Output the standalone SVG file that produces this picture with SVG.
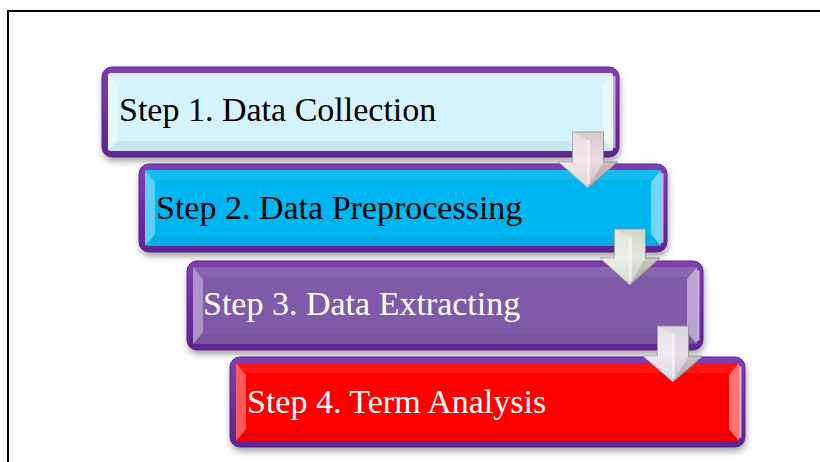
<svg xmlns="http://www.w3.org/2000/svg" width="820" height="462" viewBox="0 0 820 462">
  <defs>
    <style>
      .frame { fill: none; stroke: #000; stroke-width: 2; }
      .outer { fill: url(#rimGrad); stroke: #5a2288; stroke-width: 1; filter: url(#shadow); }
      .rimHi { fill: #e2b8f4; opacity: 0.85; }
      .bevL { fill: #fff; opacity: 0.35; }
      .bevR { fill: #fff; opacity: 0.45; }
      .bevT { fill: #fff; opacity: 0.08; }
      .bevB { fill: #000; opacity: 0.05; }
      .label { font-family: "Liberation Serif", "Times New Roman", serif; font-size: 34px; }
      .dark { fill: #000; }
      .light { fill: #fff; }
      .arrow { stroke: #8f8a8c; stroke-width: 0.8; }
      .arrowHi { fill: #fff; opacity: 0.55; }
      .arrowFacetL { fill: #fff; opacity: 0.35; }
      .arrowFacetR { fill: #000; opacity: 0.12; }
    </style>
    <filter id="shadow" x="-5%" y="-20%" width="110%" height="150%">
      <feDropShadow dx="1" dy="4" stdDeviation="3" flood-color="#000" flood-opacity="0.35"/>
    </filter>
    <linearGradient id="rimGrad" x1="0" y1="0" x2="0" y2="1">
      <stop offset="0" stop-color="#8040b0"/>
      <stop offset="0.5" stop-color="#7030a0"/>
      <stop offset="1" stop-color="#5e2590"/>
    </linearGradient>
    <linearGradient id="arrowPink" x1="0" y1="0" x2="0" y2="1">
      <stop offset="0" stop-color="#d8cccc"/>
      <stop offset="0.5" stop-color="#ecdcdf"/>
      <stop offset="1" stop-color="#cdbcbf"/>
    </linearGradient>
    <linearGradient id="arrowGreen" x1="0" y1="0" x2="0" y2="1">
      <stop offset="0" stop-color="#d2d8cc"/>
      <stop offset="0.5" stop-color="#e2e6dc"/>
      <stop offset="1" stop-color="#c4cabd"/>
    </linearGradient>
    <linearGradient id="arrowLav" x1="0" y1="0" x2="0" y2="1">
      <stop offset="0" stop-color="#d8d6dc"/>
      <stop offset="0.5" stop-color="#e6dfe9"/>
      <stop offset="1" stop-color="#c9c0cf"/>
    </linearGradient>
  </defs>

  <rect width="820" height="462" fill="#fff"/>
  <rect class="frame" x="8" y="11" width="900" height="500"/>

  <!-- Step 1 -->
  <g id="step1">
    <rect class="outer" x="102" y="67" width="517" height="90" rx="10"/>
    <rect class="rimHi" x="613" y="76" width="2.5" height="72" rx="1"/>
    <rect x="108" y="73" width="505" height="78" rx="3" fill="#d5f3fc"/>
    <polygon class="bevT" points="108,73 613,73 603,83 118,83"/>
    <polygon class="bevB" points="108,151 613,151 603,141 118,141"/>
    <polygon class="bevL" points="108,73 118,85 118,139 108,151"/>
    <polygon class="bevR" points="613,73 603,85 603,139 613,151"/>
    <text class="label dark" x="119" y="121">Step 1. Data Collection</text>
  </g>

  <!-- Step 2 -->
  <g id="step2">
    <rect class="outer" x="139" y="164" width="528" height="88" rx="10"/>
    <rect class="rimHi" x="661" y="173" width="2.5" height="70" rx="1"/>
    <rect x="145" y="170" width="516" height="76" rx="3" fill="#00b6f0"/>
    <polygon class="bevT" points="145,170 661,170 651,180 155,180"/>
    <polygon class="bevB" points="145,246 661,246 651,236 155,236"/>
    <polygon class="bevL" points="145,170 155,182 155,234 145,246"/>
    <polygon class="bevR" points="661,170 651,182 651,234 661,246"/>
    <text class="label dark" x="156" y="219">Step 2. Data Preprocessing</text>
  </g>

  <!-- Step 3 -->
  <g id="step3">
    <rect class="outer" x="187" y="261" width="516" height="89" rx="10"/>
    <rect class="rimHi" x="697" y="270" width="2.5" height="71" rx="1"/>
    <rect x="193" y="267" width="504" height="77" rx="3" fill="#7e5aa8"/>
    <polygon class="bevT" points="193,267 697,267 687,277 203,277"/>
    <polygon class="bevB" points="193,344 697,344 687,334 203,334"/>
    <polygon class="bevL" points="193,267 203,279 203,332 193,344"/>
    <polygon class="bevR" points="697,267 687,279 687,332 697,344"/>
    <text class="label light" x="203" y="315">Step 3. Data Extracting</text>
  </g>

  <!-- Step 4 -->
  <g id="step4">
    <rect class="outer" x="230" y="357" width="515" height="90" rx="10"/>
    <rect class="rimHi" x="739" y="366" width="2.5" height="72" rx="1"/>
    <rect x="236" y="363" width="503" height="78" rx="3" fill="#ff0000"/>
    <polygon class="bevT" points="236,363 739,363 729,373 246,373"/>
    <polygon class="bevB" points="236,441 739,441 729,431 246,431"/>
    <polygon class="bevL" points="236,363 246,375 246,429 236,441"/>
    <polygon class="bevR" points="739,363 729,375 729,429 739,441"/>
    <text class="label light" x="247" y="413">Step 4. Term Analysis</text>
  </g>

  <!-- Down arrows between steps -->
  <g id="connectors">
    <g id="arrow1">
      <polygon class="arrow" fill="url(#arrowPink)" points="572.5,132 603.5,132 603.5,162 617.5,162 588,188 558.5,162 572.5,162"/>
      <polygon class="arrowFacetL" points="572.5,132 588,140 588,188 558.5,162 572.5,162"/>
      <polygon class="arrowFacetR" points="603.5,162 617.5,162 588,188"/>
      <rect class="arrowHi" x="587" y="140" width="3" height="44"/>
    </g>
    <g id="arrow2">
      <polygon class="arrow" fill="url(#arrowGreen)" points="614.5,229 645.5,229 645.5,258 660,258 630,285 600,258 614.5,258"/>
      <polygon class="arrowFacetL" points="614.5,229 630,237 630,285 600,258 614.5,258"/>
      <polygon class="arrowFacetR" points="645.5,258 660,258 630,285"/>
      <rect class="arrowHi" x="629" y="237" width="3" height="44"/>
    </g>
    <g id="arrow3">
      <polygon class="arrow" fill="url(#arrowLav)" points="657.5,326 688.5,326 688.5,356 703,356 673,382 643,356 657.5,356"/>
      <polygon class="arrowFacetL" points="657.5,326 673,334 673,382 643,356 657.5,356"/>
      <polygon class="arrowFacetR" points="688.5,356 703,356 673,382"/>
      <rect class="arrowHi" x="672" y="334" width="3" height="44"/>
    </g>
  </g>
</svg>
